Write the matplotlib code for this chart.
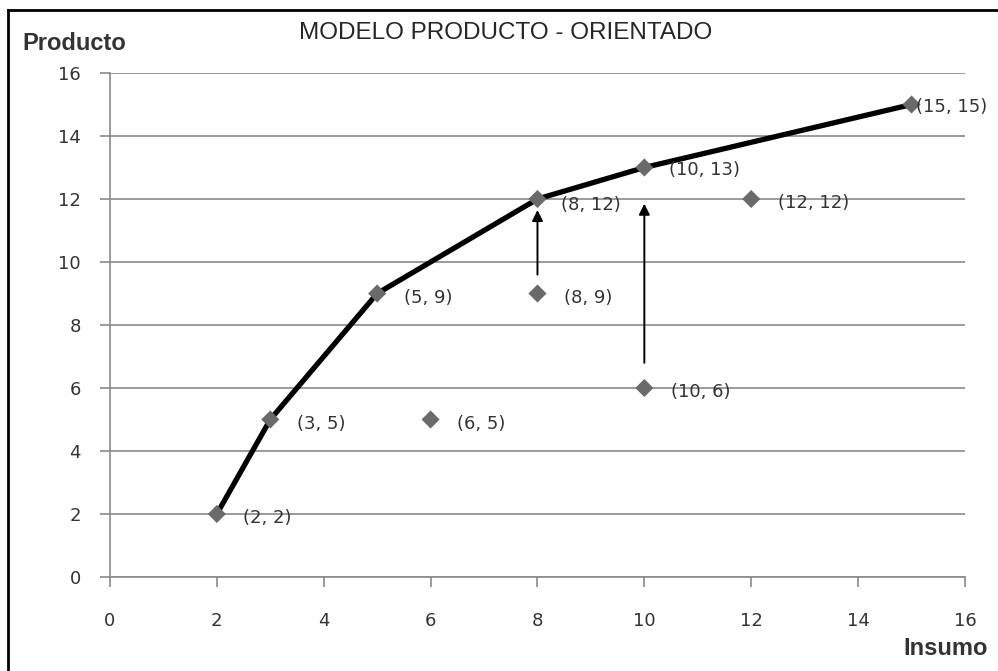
import matplotlib
matplotlib.use("Agg")
import matplotlib.pyplot as plt
from matplotlib.lines import Line2D

# Frontier (product-oriented) and observed units
frontier_x = [2, 3, 5, 8, 10, 15]
frontier_y = [2, 5, 9, 12, 13, 15]
units_x = [2, 3, 5, 6, 8, 8, 10, 10, 12, 15]
units_y = [2, 5, 9, 5, 9, 12, 13, 6, 12, 15]
x_ticks = [0, 2, 4, 6, 8, 10, 12, 14, 16]
y_ticks = [0, 2, 4, 6, 8, 10, 12, 14, 16]

# Projection arrows: (x, start y, end y)
arrows = [(8, 9.6, 11.65), (10, 6.8, 11.85)]

fig = plt.figure(figsize=(9.98, 6.71), dpi=100)
ax = fig.add_axes([0.1102, 0.1401, 0.8567, 0.7511])

grid_c = "#8a8a8a"
text_c = "#333333"

ax.set_xlim(0, 16)
ax.set_ylim(0, 16)
ax.set_xticks(x_ticks)
ax.set_yticks(y_ticks)
ax.yaxis.grid(True, color=grid_c, linewidth=1.2)
ax.set_axisbelow(True)
for s in ("top", "right"):
    ax.spines[s].set_visible(False)
for s in ("left", "bottom"):
    ax.spines[s].set_color(grid_c)
    ax.spines[s].set_linewidth(1.2)
ax.tick_params(axis="both", colors=grid_c, length=7, width=1.2,
               labelcolor=text_c, labelsize=13)
ax.tick_params(axis="x", pad=18)
ax.tick_params(axis="y", pad=14)
for lbl in ax.get_xticklabels() + ax.get_yticklabels():
    lbl.set_family("DejaVu Sans")

ax.plot(frontier_x, frontier_y, color="black", linewidth=3.8, zorder=3,
        solid_capstyle="butt")
ax.scatter(units_x, units_y, marker="D", s=85, color="#6a6a6a",
           edgecolors="none", zorder=4, clip_on=False)

for x, y0, y1 in arrows:
    ax.annotate("", xy=(x, y1), xytext=(x, y0),
                arrowprops=dict(arrowstyle="-|>", color="black", lw=1.4,
                                mutation_scale=16, shrinkA=0, shrinkB=0),
                zorder=5)

offsets = {(8, 12): (17, -4), (10, 13): (18, -2), (15, 15): (3, -2)}
for x, y in zip(units_x, units_y):
    dx, dy = offsets.get((x, y), (19, -3))
    ax.annotate(f"({x}, {y})", xy=(x, y), xytext=(dx, dy),
                textcoords="offset points", ha="left", va="center",
                fontsize=13, color=text_c, family="DejaVu Sans", zorder=6)

fig.text(0.507, 0.951, "MODELO PRODUCTO - ORIENTADO", ha="center", va="center",
         fontsize=17.5, color="#262626", family="Liberation Sans")
fig.text(0.022, 0.935, "Producto", ha="left", va="center", fontsize=17,
         fontweight="bold", color=text_c, family="Liberation Sans")
fig.text(0.990, 0.034, "Insumo", ha="right", va="center", fontsize=17,
         fontweight="bold", color=text_c, family="Liberation Sans")

# Outer frame (left and top edges)
fig.add_artist(Line2D([0.008, 0.008], [0.0, 0.985], transform=fig.transFigure,
                      color="black", linewidth=2))
fig.add_artist(Line2D([0.008, 1.0], [0.985, 0.985], transform=fig.transFigure,
                      color="black", linewidth=2))

fig.savefig("out.png", dpi=100)
